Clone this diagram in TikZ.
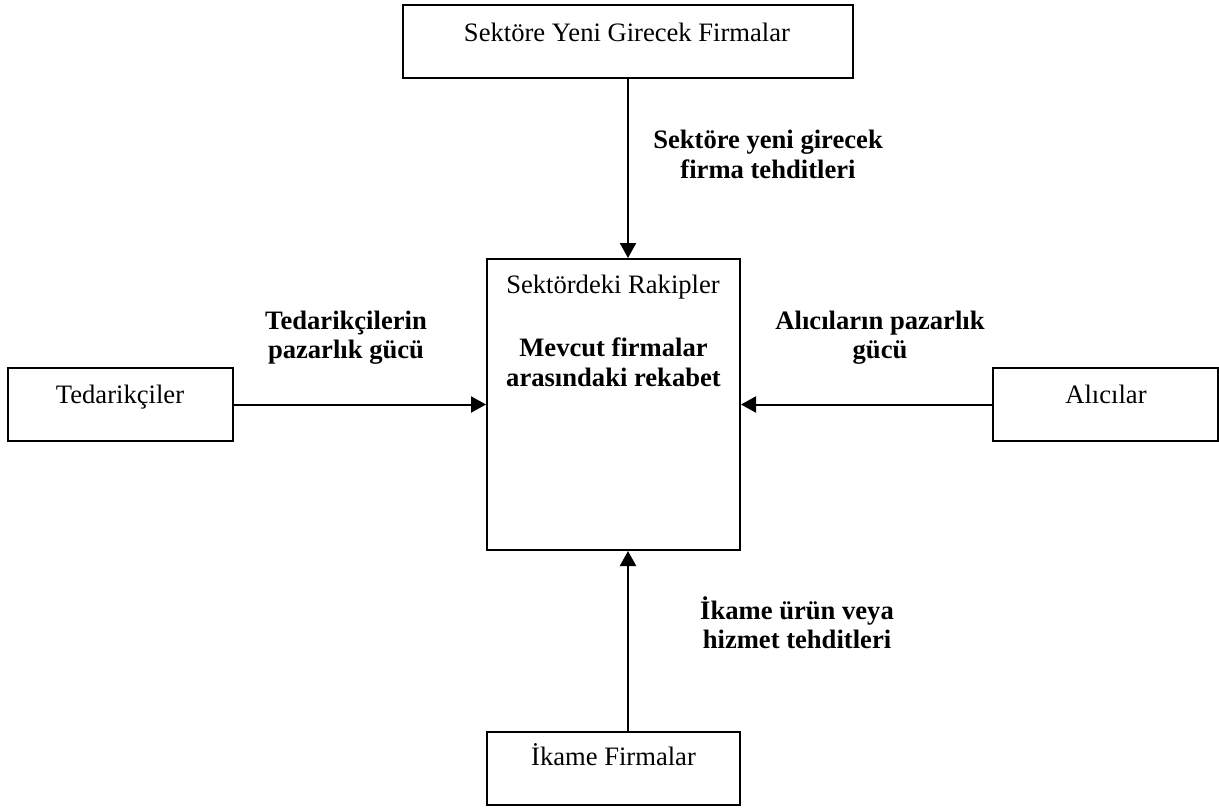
\documentclass[tikz,border=0pt]{standalone}
\usepackage{fontspec}
\setmainfont{Liberation Serif}
\usetikzlibrary{arrows.meta}
\begin{document}
\begin{tikzpicture}[x=0.5pt,y=-0.5pt,
  box/.style={draw,line width=1pt,inner sep=0pt},
  txt/.style={font=\fontsize{13.3}{15}\selectfont,inner sep=0pt,anchor=base,align=center},
  lbl/.style={font=\fontsize{13.3}{14.5}\selectfont\bfseries,inner sep=0pt,anchor=base,align=center},
  arr/.style={line width=1pt,-{Triangle[length=7.5pt,width=8pt]}}]
\useasboundingbox (0,0) rectangle (1219,808);
% frames
\node[box,minimum width=225pt,minimum height=36.5pt] (entrants) at (628,41.5) {};
\node[box,minimum width=126.5pt,minimum height=145.5pt] (rivals) at (613.5,404.5) {};
\node[box,minimum width=112.5pt,minimum height=36.5pt] (suppliers) at (120.5,404.5) {};
\node[box,minimum width=112.5pt,minimum height=36.5pt] (buyers) at (1105.5,404.5) {};
\node[box,minimum width=126.5pt,minimum height=36.5pt] (substitutes) at (613.5,768.5) {};
% frame titles (anchor = baseline of the last line)
\node[txt] (tEntrants) at (627,42) {Sektöre Yeni Girecek Firmalar};
\node[txt] (tRivals) at (613,293) {Sektördeki Rakipler};
\node[lbl,font=\fontsize{13.3}{15}\selectfont\bfseries] (tRivalry) at (613.5,386) {Mevcut firmalar\\arasındaki rekabet};
\node[txt] (tSuppliers) at (120,403) {Tedarikçiler};
\node[txt] (tBuyers) at (1106,403) {Alıcılar};
\node[txt] (tSubstitutes) at (613.5,765) {İkame Firmalar};
% forces
\node[lbl,font=\fontsize{13.3}{15}\selectfont\bfseries] (lEntrants) at (768,178) {Sektöre yeni girecek\\firma tehditleri};
\node[lbl] (lSuppliers) at (346,358) {Tedarikçilerin\\pazarlık gücü};
\node[lbl] (lBuyers) at (880,358) {Alıcıların pazarlık\\gücü};
\node[lbl] (lSubstitutes) at (797,648) {İkame ürün veya\\hizmet tehditleri};
% arrows
\draw[arr] (entrants.south) -- (entrants.south |- rivals.north);
\draw[arr] (suppliers.east) -- (suppliers.east -| rivals.west);
\draw[arr] (buyers.west) -- (buyers.west -| rivals.east);
\draw[arr] (substitutes.north -| entrants.south) -- (rivals.south -| entrants.south);
\end{tikzpicture}
\end{document}
